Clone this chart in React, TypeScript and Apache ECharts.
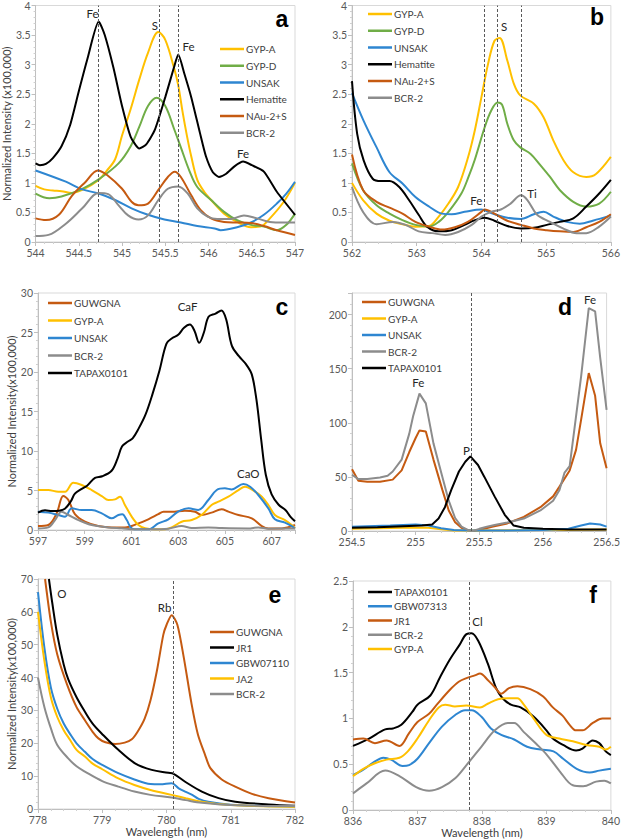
import React, { useEffect, useRef } from 'react';
import * as echarts from 'echarts';

type P = [number, number][];

// ---------- Panel a (544–547 nm) ----------
const A_GYPA: P = [[544,0.95],[544.1,0.89],[544.2,0.87],[544.3,0.86],[544.42,0.83],[544.54,0.88],[544.73,1.05],[544.82,1.2],[544.92,1.4],[545.0,1.8],[545.1,2.25],[545.2,2.75],[545.3,3.2],[545.42,3.55],[545.5,3.42],[545.6,2.95],[545.65,2.65],[545.7,2.2],[545.75,1.8],[545.8,1.45],[545.87,1.05],[545.95,0.85],[546.03,0.71],[546.18,0.48],[546.33,0.34],[546.49,0.25],[546.6,0.26],[546.71,0.4],[546.87,0.68],[547,1.0]];
const A_GYPD: P = [[544,0.82],[544.16,0.74],[544.3,0.77],[544.54,0.9],[544.73,1.06],[544.96,1.33],[545.1,1.62],[545.2,1.95],[545.3,2.3],[545.4,2.44],[545.5,2.3],[545.6,1.92],[545.68,1.6],[545.78,1.2],[545.87,0.93],[546.03,0.71],[546.18,0.51],[546.33,0.37],[546.49,0.29],[546.64,0.26],[546.79,0.2],[546.9,0.29],[547,0.48]];
const A_UNSAK: P = [[544,1.21],[544.35,1.02],[544.54,0.89],[544.73,0.82],[544.92,0.71],[545.11,0.57],[545.3,0.46],[545.49,0.38],[545.68,0.33],[545.87,0.27],[546.07,0.23],[546.14,0.2],[546.33,0.25],[546.49,0.33],[546.64,0.46],[546.79,0.65],[546.9,0.82],[547,1.02]];
const A_HEM: P = [[544,1.33],[544.05,1.3],[544.12,1.32],[544.2,1.42],[544.3,1.62],[544.4,1.98],[544.5,2.55],[544.6,3.1],[544.73,3.73],[544.8,3.5],[544.9,2.95],[545.0,2.3],[545.1,1.78],[545.2,1.58],[545.28,1.65],[545.38,1.9],[545.5,2.45],[545.6,2.95],[545.65,3.17],[545.72,2.85],[545.8,2.45],[545.9,1.85],[545.97,1.45],[546.05,1.18],[546.12,1.1],[546.2,1.15],[546.3,1.28],[546.4,1.36],[546.5,1.3],[546.64,1.19],[546.79,0.85],[547,0.46]];
const A_NAU: P = [[544,0.4],[544.12,0.37],[544.27,0.46],[544.42,0.78],[544.58,1.02],[544.72,1.21],[544.83,1.13],[545.0,0.9],[545.11,0.68],[545.19,0.62],[545.3,0.65],[545.42,0.88],[545.53,1.1],[545.61,1.19],[545.68,1.1],[545.8,0.79],[545.91,0.54],[546.03,0.4],[546.18,0.34],[546.33,0.33],[546.49,0.32],[546.64,0.27],[546.79,0.2],[547,0.12]];
const A_BCR: P = [[544,0.1],[544.15,0.12],[544.35,0.31],[544.54,0.57],[544.73,0.83],[544.84,0.81],[544.96,0.62],[545.07,0.45],[545.19,0.38],[545.3,0.45],[545.42,0.71],[545.53,0.9],[545.65,0.94],[545.76,0.82],[545.87,0.57],[545.99,0.43],[546.1,0.39],[546.26,0.39],[546.41,0.45],[546.56,0.4],[546.71,0.34],[546.87,0.33],[547,0.33]];
const A_LINES = [544.73, 545.43, 545.65];

// ---------- Panel b (562–566 nm) ----------
const B_GYPA: P = [[562,1.0],[562.17,0.71],[562.38,0.48],[562.58,0.36],[562.78,0.3],[562.98,0.26],[563.19,0.27],[563.34,0.43],[563.49,0.65],[563.64,0.93],[563.79,1.42],[563.9,1.9],[564.0,2.45],[564.1,3.0],[564.2,3.4],[564.28,3.45],[564.4,3.07],[564.5,2.68],[564.6,2.48],[564.81,2.34],[564.96,2.11],[565.11,1.72],[565.27,1.38],[565.42,1.18],[565.62,1.1],[565.77,1.15],[566,1.44]];
const B_GYPD: P = [[562,1.33],[562.17,0.88],[562.38,0.62],[562.58,0.48],[562.78,0.37],[562.98,0.29],[563.19,0.26],[563.34,0.34],[563.49,0.51],[563.69,0.82],[563.8,1.1],[563.9,1.4],[564.05,1.94],[564.15,2.22],[564.25,2.36],[564.32,2.32],[564.4,2.0],[564.5,1.72],[564.6,1.6],[564.76,1.49],[564.91,1.3],[565.06,1.1],[565.21,0.88],[565.42,0.68],[565.62,0.6],[565.82,0.65],[566,0.85]];
const B_UNSAK: P = [[562,2.52],[562.18,2.05],[562.38,1.6],[562.58,1.18],[562.78,0.99],[562.98,0.76],[563.19,0.6],[563.39,0.48],[563.54,0.47],[563.74,0.51],[564.0,0.55],[564.15,0.49],[564.4,0.41],[564.61,0.39],[564.81,0.47],[564.96,0.51],[565.11,0.43],[565.32,0.34],[565.52,0.31],[565.72,0.36],[566,0.45]];
const B_HEM: P = [[562,2.72],[562.08,1.83],[562.18,1.38],[562.32,1.07],[562.45,1.03],[562.58,1.03],[562.73,0.93],[562.88,0.71],[563.03,0.46],[563.16,0.26],[563.34,0.18],[563.54,0.2],[563.74,0.29],[563.9,0.37],[564.05,0.41],[564.2,0.36],[564.4,0.27],[564.61,0.23],[564.81,0.24],[565.01,0.29],[565.21,0.34],[565.42,0.4],[565.62,0.6],[565.82,0.82],[566,1.05]];
const B_NAU: P = [[562,1.48],[562.17,0.88],[562.38,0.68],[562.58,0.58],[562.78,0.48],[562.98,0.34],[563.19,0.26],[563.39,0.21],[563.59,0.25],[563.79,0.34],[564.0,0.51],[564.05,0.55],[564.2,0.48],[564.4,0.36],[564.61,0.29],[564.81,0.23],[565.01,0.2],[565.21,0.18],[565.42,0.17],[565.62,0.25],[565.82,0.34],[566,0.47]];
const B_BCR: P = [[562,0.93],[562.17,0.51],[562.38,0.3],[562.63,0.34],[562.83,0.29],[563.03,0.18],[563.24,0.15],[563.44,0.12],[563.64,0.17],[563.85,0.29],[564.0,0.43],[564.15,0.51],[564.3,0.55],[564.45,0.65],[564.61,0.79],[564.71,0.71],[564.86,0.46],[565.06,0.34],[565.26,0.23],[565.47,0.15],[565.62,0.15],[565.82,0.26],[566,0.43]];
const B_LINES = [564.04, 564.25, 564.62];

// ---------- Panel c (597–608 nm) ----------
const C_GUW: P = [[597,0.5],[597.44,0.63],[597.8,2.11],[598.08,4.3],[598.3,3.8],[598.58,2.0],[599.01,1.05],[599.58,0.5],[600.15,0.33],[600.72,0.33],[601.3,0.84],[601.72,1.35],[602.15,2.0],[602.37,2.32],[602.72,2.32],[603.29,2.45],[603.72,2.32],[604.0,1.9],[604.43,2.2],[604.86,2.62],[605.15,2.32],[605.58,1.9],[606.15,1.48],[606.58,0.5],[606.86,0.2],[607.43,0.2],[608,0.63]];
const C_GYPA: P = [[597,5.06],[597.44,5.06],[597.87,4.85],[598.16,4.85],[598.51,5.99],[598.87,5.7],[599.3,5.06],[599.73,4.3],[600.01,3.8],[600.3,3.88],[600.51,4.22],[600.72,3.16],[601.01,1.69],[601.3,0.63],[601.58,0.21],[602.01,0.08],[602.44,0.1],[602.72,0.33],[603.15,1.05],[603.58,1.26],[604.0,1.9],[604.43,3.16],[604.72,3.58],[605.15,4.22],[605.58,5.06],[605.86,5.48],[606.29,4.85],[606.58,4.22],[606.86,3.16],[607.14,1.9],[607.57,1.26],[607.86,0.63],[608,0.2]];
const C_UNSAK: P = [[597,2.32],[597.44,2.2],[597.87,1.9],[598.16,1.69],[598.44,2.74],[598.87,2.53],[599.3,2.53],[599.73,2.11],[600.15,1.48],[600.44,1.9],[600.61,2.0],[600.8,1.26],[601.01,0.21],[601.3,0.08],[601.72,0.08],[602.15,0.84],[602.58,1.35],[603.0,2.32],[603.44,2.74],[603.86,2.53],[604.29,3.8],[604.65,5.06],[605.0,5.27],[605.29,5.14],[605.79,5.82],[606.08,5.48],[606.43,4.43],[606.86,2.74],[607.14,1.35],[607.57,0.93],[607.86,0.5],[608,0.2]];
const C_BCR: P = [[597,0.2],[597.44,0.33],[597.73,1.26],[598.01,2.32],[598.3,1.9],[598.73,1.26],[599.3,0.63],[600.01,0.33],[600.58,0.21],[601.15,0.08],[601.87,0.08],[602.58,0.17],[603.15,0.5],[603.58,0.25],[604.29,0.33],[604.86,0.25],[606.0,0.2],[606.43,0.33],[606.86,0.17],[608,0.2]];
const C_TAP: P = [[597,2.2],[597.3,2.5],[597.6,2.4],[597.9,2.45],[598.15,2.7],[598.4,3.6],[598.58,4.6],[598.87,5.2],[599.1,5.6],[599.44,6.6],[599.75,6.8],[600.15,7.5],[600.4,9.0],[600.6,10.6],[600.85,11.2],[601.05,11.6],[601.3,12.8],[601.6,14.6],[601.9,17.2],[602.2,20.2],[602.5,23.6],[602.75,24.3],[603.0,24.7],[603.25,25.6],[603.5,26.0],[603.7,25.2],[603.9,23.7],[604.1,25.0],[604.3,27.0],[604.6,27.4],[604.85,27.8],[605.05,26.7],[605.3,23.3],[605.6,22.0],[605.9,21.0],[606.15,19.7],[606.35,16.5],[606.55,11.5],[606.75,7.0],[607.0,4.5],[607.3,3.2],[607.6,2.5],[607.8,1.7],[608,1.1]];

// ---------- Panel d (254.5–256.5 nm) ----------
const D_GUW: P = [[254.5,57],[254.55,46.5],[254.62,45.5],[254.72,45.5],[254.82,47.5],[254.89,56],[254.95,73],[255.0,86],[255.03,93],[255.08,92],[255.14,66],[255.21,38],[255.26,19],[255.31,8],[255.36,3],[255.41,0.6],[255.45,0],[255.5,1],[255.6,4],[255.72,7],[255.85,13],[255.98,22],[256.08,32],[256.13,41],[256.21,56],[256.26,75],[256.3,103],[256.36,146],[256.41,125],[256.45,81],[256.5,58]];
const D_GYPA: P = [[254.5,2],[254.9,3],[255.1,3],[255.2,1.5],[255.3,0.5],[255.5,0.5],[256.0,1],[256.5,1.5]];
const D_UNSAK: P = [[254.5,4],[254.8,5],[255.0,6],[255.1,5],[255.2,2.5],[255.3,1],[255.45,0.5],[255.7,0.5],[256.0,1],[256.2,2],[256.3,5],[256.37,7],[256.45,6],[256.5,4]];
const D_BCR: P = [[254.5,52],[254.55,48],[254.62,48],[254.72,49.5],[254.78,51],[254.82,55],[254.89,66],[254.95,90],[254.98,106],[255.03,127],[255.08,118],[255.14,81],[255.21,50],[255.26,28],[255.31,12],[255.36,4],[255.41,1],[255.45,0],[255.5,2],[255.56,4],[255.62,5.5],[255.72,7.8],[255.85,11.5],[255.98,19],[256.08,28],[256.13,38],[256.17,54],[256.21,60],[256.26,106],[256.3,143],[256.36,206],[256.41,203],[256.45,160],[256.5,112]];
const D_TAP: P = [[254.5,3],[254.7,3.5],[254.9,4.5],[255.05,5],[255.13,6],[255.18,11.5],[255.23,22],[255.28,38],[255.34,55],[255.39,64],[255.43,69],[255.49,61],[255.54,50],[255.62,32],[255.7,15],[255.77,5],[255.85,3],[256.0,2],[256.2,1.5],[256.5,1.5]];
const D_LINES = [255.44];

// ---------- Panel e (778–782 nm) ----------
const E_GUW: P = [[778.11,70],[778.2,57],[778.3,47],[778.45,38],[778.6,31],[778.73,27],[778.85,23.5],[778.94,21.5],[779.05,20.3],[779.2,19.8],[779.35,20.2],[779.46,21.2],[779.55,23.5],[779.66,27.5],[779.75,33],[779.85,42],[779.95,53],[780.0,56],[780.08,59],[780.17,56],[780.27,46],[780.39,32],[780.49,22.6],[780.6,16.5],[780.68,12.5],[780.86,9],[781.07,6.8],[781.33,4.6],[781.59,3.3],[782,2.0]];
const E_JR1: P = [[778.17,70],[778.22,63],[778.3,53],[778.4,44],[778.47,39.5],[778.6,34],[778.73,29.6],[778.85,26],[778.99,23],[779.25,18],[779.51,13.9],[779.77,11.9],[780.03,11.0],[780.11,10.7],[780.29,8.3],[780.55,5.3],[780.81,3.3],[781.07,2.2],[781.59,1.4],[782,1.0]];
const E_GBW: P = [[778,66],[778.1,49],[778.2,37],[778.3,30.5],[778.4,26],[778.5,22.8],[778.6,20],[778.73,17.4],[778.85,15.2],[779.0,13.4],[779.25,10.9],[779.5,9.0],[779.75,7.6],[779.9,7.5],[780.08,7.8],[780.19,6.3],[780.3,5.2],[780.4,4.3],[780.5,3.1],[780.65,2.2],[781.0,1.3],[781.5,0.9],[782,0.7]];
const E_JA2: P = [[778,60],[778.1,45],[778.2,34],[778.3,28],[778.4,24],[778.5,21],[778.6,18],[778.73,16],[778.85,13.8],[779.0,12.1],[779.25,9.3],[779.5,7.3],[779.75,5.8],[780.08,4.3],[780.3,3.3],[780.55,2.2],[781.0,1.2],[782,0.7]];
const E_BCR: P = [[778,40],[778.1,31],[778.21,24],[778.3,19.5],[778.47,15.4],[778.6,13],[778.73,11.4],[779.0,8.5],[779.25,6.8],[779.5,5.3],[779.75,4.3],[780.08,3.5],[780.3,2.7],[780.55,1.9],[781.0,1.2],[782,0.9]];
const E_LINES = [780.1];

// ---------- Panel f (836–840 nm) ----------
const F_TAP: P = [[836,0.7],[836.25,0.78],[836.5,0.88],[836.62,0.89],[836.75,0.93],[836.92,1.07],[837.0,1.15],[837.2,1.25],[837.35,1.45],[837.5,1.64],[837.65,1.8],[837.76,1.92],[837.84,1.93],[837.94,1.85],[838.09,1.6],[838.22,1.33],[838.32,1.22],[838.45,1.15],[838.6,1.12],[838.8,1.02],[839.0,0.87],[839.1,0.78],[839.26,0.71],[839.46,0.65],[839.56,0.67],[839.72,0.76],[839.82,0.73],[839.92,0.64],[840,0.6]];
const F_GBW: P = [[836,0.38],[836.16,0.44],[836.34,0.53],[836.47,0.57],[836.59,0.55],[836.77,0.48],[836.87,0.49],[837.0,0.56],[837.18,0.73],[837.38,0.91],[837.59,1.04],[837.74,1.09],[837.84,1.09],[837.99,1.02],[838.14,0.89],[838.3,0.82],[838.5,0.77],[838.7,0.69],[838.91,0.66],[839.11,0.64],[839.26,0.56],[839.47,0.45],[839.67,0.41],[839.82,0.43],[840,0.45]];
const F_JR1: P = [[836,0.77],[836.16,0.78],[836.34,0.73],[836.52,0.76],[836.72,0.7],[836.87,0.84],[837.0,0.96],[837.18,1.05],[837.3,1.15],[837.5,1.31],[837.64,1.4],[837.76,1.44],[837.89,1.47],[837.97,1.49],[838.09,1.42],[838.2,1.34],[838.3,1.27],[838.42,1.33],[838.55,1.35],[838.75,1.32],[838.95,1.24],[839.1,1.12],[839.25,1.03],[839.36,0.93],[839.46,0.87],[839.56,0.87],[839.72,0.95],[839.87,1.0],[840,1.0]];
const F_BCR: P = [[836,0.18],[836.21,0.29],[836.5,0.43],[836.72,0.37],[836.98,0.25],[837.18,0.21],[837.38,0.25],[837.59,0.35],[837.76,0.49],[837.99,0.69],[838.2,0.87],[838.4,0.95],[838.5,0.95],[838.65,0.85],[838.86,0.71],[839.01,0.6],[839.21,0.42],[839.41,0.27],[839.57,0.26],[839.77,0.31],[839.9,0.32],[840,0.29]];
const F_GYPA: P = [[836,0.37],[836.16,0.45],[836.34,0.51],[836.52,0.55],[836.72,0.57],[836.85,0.64],[837.0,0.78],[837.18,0.98],[837.33,1.12],[837.43,1.15],[837.58,1.13],[837.76,1.14],[837.97,1.12],[838.09,1.16],[838.25,1.21],[838.4,1.22],[838.55,1.22],[838.65,1.15],[838.8,1.0],[839.0,0.82],[839.2,0.78],[839.41,0.75],[839.62,0.71],[839.82,0.69],[839.92,0.66],[840,0.69]];
const F_LINES = [837.8];

const FONT = 'Lato, "Liberation Sans", sans-serif';
const COL = { yellow: '#FFC000', green: '#70AD47', blue: '#2E86D1', black: '#000000', orange: '#C55A11', gray: '#8C8C8C' };

const GRIDS = [
  { left: 33, top: 5, width: 262, height: 237 },
  { left: 352, top: 5, width: 263, height: 237 },
  { left: 38, top: 293, width: 257, height: 237 },
  { left: 352, top: 293, width: 259, height: 238 },
  { left: 38, top: 579, width: 257, height: 230 },
  { left: 353, top: 581, width: 262, height: 229 },
];

function xAx(gi: number, min: number, max: number, interval: number, extra: any = {}) {
  return {
    type: 'value', gridIndex: gi, min, max, interval,
    axisLine: { show: true, onZero: false, lineStyle: { color: '#BFBFBF', width: 1 } },
    axisTick: { show: true, length: 4, lineStyle: { color: '#BFBFBF' } },
    minorTick: { show: true, splitNumber: 5, length: 2, lineStyle: { color: '#D0D0D0' } },
    splitLine: { show: false },
    axisLabel: { color: '#595959', fontSize: 10.5, fontFamily: FONT, margin: 5, showMaxLabel: extra.hideMax ? false : true },
    ...(extra.name ? { name: extra.name, nameLocation: 'middle', nameGap: 17, nameTextStyle: { color: '#404040', fontSize: 11, fontFamily: FONT } } : {}),
  };
}
function yAx(gi: number, min: number, max: number, interval: number, extra: any = {}) {
  return {
    type: 'value', gridIndex: gi, min, max, interval,
    axisLine: { show: true, onZero: false, lineStyle: { color: '#BFBFBF', width: 1 } },
    axisTick: { show: true, length: 4, lineStyle: { color: '#BFBFBF' } },
    minorTick: { show: true, splitNumber: 5, length: 2, lineStyle: { color: '#D0D0D0' } },
    splitLine: { show: false },
    axisLabel: { color: '#595959', fontSize: 10.5, fontFamily: FONT, margin: 5, showMaxLabel: extra.hideMax ? false : true },
    ...(extra.name ? { name: extra.name, nameLocation: 'middle', nameGap: extra.gap || 20, nameTextStyle: { color: '#404040', fontSize: 11, fontFamily: FONT } } : {}),
  };
}

function ser(name: string, data: P, color: string, gi: number, smooth: number | boolean = 0.35) {
  return {
    type: 'line', name, data, xAxisIndex: gi, yAxisIndex: gi, showSymbol: false, symbol: 'none',
    smooth, clip: true, lineStyle: { color, width: 2 }, itemStyle: { color }, emphasis: { disabled: true },
  };
}
function withMarks(s: any, lines: number[], labels: { t: string; x: number; y: number }[]) {
  s.markLine = {
    silent: true, symbol: ['none', 'none'], label: { show: false },
    lineStyle: { color: '#595959', type: [3, 2], width: 1 },
    data: lines.map((v) => ({ xAxis: v })),
  };
  s.markPoint = {
    silent: true, symbol: 'circle', symbolSize: 0,
    label: { show: true, position: 'inside', formatter: '{b}', color: '#262626', fontSize: 11.5, fontFamily: FONT },
    data: labels.map((l) => ({ name: l.t, coord: [l.x, l.y] })),
  };
  return s;
}
function legend(left: number, top: number, items: [string, string][], gap: number) {
  return {
    left, top, orient: 'vertical', icon: 'rect', itemWidth: 24, itemHeight: 2.5, itemGap: gap,
    selectedMode: false,
    textStyle: { color: '#404040', fontSize: 10, fontFamily: FONT, padding: [0, 0, 0, -3] },
    data: items.map(([n, c]) => ({ name: n, itemStyle: { color: c }, lineStyle: { color: c } })),
  };
}

export default function App() {
  const ref = useRef<HTMLDivElement>(null);
  useEffect(() => {
    if (!ref.current) return;
    const chart = echarts.init(ref.current, undefined, { renderer: 'svg' });
    const series: any[] = [
      withMarks(ser('GYP-A', A_GYPA, COL.yellow, 0), A_LINES, [
        { t: 'Fe', x: 544.66, y: 3.87 }, { t: 'S', x: 545.38, y: 3.67 }, { t: 'Fe', x: 545.77, y: 3.3 }, { t: 'Fe', x: 546.4, y: 1.5 },
      ]),
      ser('GYP-D', A_GYPD, COL.green, 0),
      ser('UNSAK', A_UNSAK, COL.blue, 0),
      ser('Hematite', A_HEM, COL.black, 0, 0.2),
      ser('NAu-2+S', A_NAU, COL.orange, 0),
      ser('BCR-2', A_BCR, COL.gray, 0),

      withMarks(ser('GYP-A', B_GYPA, COL.yellow, 1), B_LINES, [
        { t: 'Fe', x: 563.92, y: 0.7 }, { t: 'S', x: 564.35, y: 3.65 }, { t: 'Ti', x: 564.78, y: 0.82 },
      ]),
      ser('GYP-D', B_GYPD, COL.green, 1),
      ser('UNSAK', B_UNSAK, COL.blue, 1),
      ser('Hematite', B_HEM, COL.black, 1),
      ser('NAu-2+S', B_NAU, COL.orange, 1),
      ser('BCR-2', B_BCR, COL.gray, 1),

      withMarks(ser('GUWGNA', C_GUW, COL.orange, 2), [], [
        { t: 'CaF', x: 603.4, y: 28.3 }, { t: 'CaO', x: 606.0, y: 7.2 },
      ]),
      ser('GYP-A', C_GYPA, COL.yellow, 2),
      ser('UNSAK', C_UNSAK, COL.blue, 2),
      ser('BCR-2', C_BCR, COL.gray, 2),
      ser('TAPAX0101', C_TAP, COL.black, 2),

      withMarks(ser('GUWGNA', D_GUW, COL.orange, 3, false), D_LINES, [
        { t: 'Fe', x: 255.02, y: 137 }, { t: 'P', x: 255.4, y: 74 }, { t: 'Fe', x: 256.37, y: 214 },
      ]),
      ser('GYP-A', D_GYPA, COL.yellow, 3, false),
      ser('UNSAK', D_UNSAK, COL.blue, 3, false),
      ser('BCR-2', D_BCR, COL.gray, 3, false),
      ser('TAPAX0101', D_TAP, COL.black, 3, false),

      withMarks(ser('GUWGNA', E_GUW, COL.orange, 4, 0.25), E_LINES, [
        { t: 'O', x: 778.37, y: 65.5 }, { t: 'Rb', x: 779.97, y: 61.3 },
      ]),
      ser('JR1', E_JR1, COL.black, 4),
      ser('GBW07110', E_GBW, COL.blue, 4),
      ser('JA2', E_JA2, COL.yellow, 4),
      ser('BCR-2', E_BCR, COL.gray, 4),

      withMarks(ser('TAPAX0101', F_TAP, COL.black, 5), F_LINES, [{ t: 'Cl', x: 837.93, y: 2.06 }]),
      ser('GBW07313', F_GBW, COL.blue, 5),
      ser('JR1', F_JR1, COL.orange, 5),
      ser('BCR-2', F_BCR, COL.gray, 5),
      ser('GYP-A', F_GYPA, COL.yellow, 5),
    ];

    const letter = (t: string, x: number, y: number) => ({
      type: 'text', x, y, silent: true,
      style: { text: t, font: 'bold 23px "Liberation Sans", Arial, sans-serif', fill: '#000', align: 'center', verticalAlign: 'middle' },
    });

    chart.setOption({
      animation: false,
      backgroundColor: '#ffffff',
      grid: GRIDS.map((g) => ({ ...g, show: true, borderColor: '#D9D9D9', borderWidth: 1, backgroundColor: 'transparent' })),
      xAxis: [
        xAx(0, 544, 547, 0.5),
        xAx(1, 562, 566, 1),
        xAx(2, 597, 608, 2, { hideMax: true }),
        xAx(3, 254.5, 256.5, 0.5),
        xAx(4, 778, 782, 1, { name: 'Wavelength (nm)' }),
        xAx(5, 836, 840, 1, { name: 'Wavelength (nm)' }),
      ],
      yAxis: [
        yAx(0, 0, 4, 0.5, { name: 'Normalized Intensity (x100,000)', gap: 20 }),
        yAx(1, 0, 4, 0.5),
        yAx(2, 0, 30, 5, { name: 'Normalized Intensity(x100,000)', gap: 20 }),
        yAx(3, 0, 220, 50, { hideMax: true }),
        yAx(4, 0, 70, 10, { name: 'Normalized Intensity(x100,000)', gap: 20 }),
        yAx(5, 0, 2.5, 0.5),
      ],
      legend: [
        legend(215, 39, [['GYP-A', COL.yellow], ['GYP-D', COL.green], ['UNSAK', COL.blue], ['Hematite', COL.black], ['NAu-2+S', COL.orange], ['BCR-2', COL.gray]], 6.75),
        legend(363, 4, [['GYP-A', COL.yellow], ['GYP-D', COL.green], ['UNSAK', COL.blue], ['Hematite', COL.black], ['NAu-2+S', COL.orange], ['BCR-2', COL.gray]], 6.75),
        legend(43, 293, [['GUWGNA', COL.orange], ['GYP-A', COL.yellow], ['UNSAK', COL.blue], ['BCR-2', COL.gray], ['TAPAX0101', COL.black]], 7.5),
        legend(357, 292, [['GUWGNA', COL.orange], ['GYP-A', COL.yellow], ['UNSAK', COL.blue], ['BCR-2', COL.gray], ['TAPAX0101', COL.black]], 6.5),
        legend(205, 622, [['GUWGNA', COL.orange], ['JR1', COL.black], ['GBW07110', COL.blue], ['JA2', COL.yellow], ['BCR-2', COL.gray]], 5.5),
        legend(363, 582, [['TAPAX0101', COL.black], ['GBW07313', COL.blue], ['JR1', COL.orange], ['BCR-2', COL.gray], ['GYP-A', COL.yellow]], 4.25),
      ],
      graphic: [
        letter('a', 282, 19),
        letter('b', 597, 17),
        letter('c', 282, 307),
        letter('d', 565, 307),
        letter('e', 275, 595),
        letter('f', 593, 595),
      ],
      series,
    });
    return () => chart.dispose();
  }, []);
  return <div ref={ref} style={{ position: 'absolute', left: 0, top: 0, width: 623, height: 839, background: '#fff' }} />;
}
